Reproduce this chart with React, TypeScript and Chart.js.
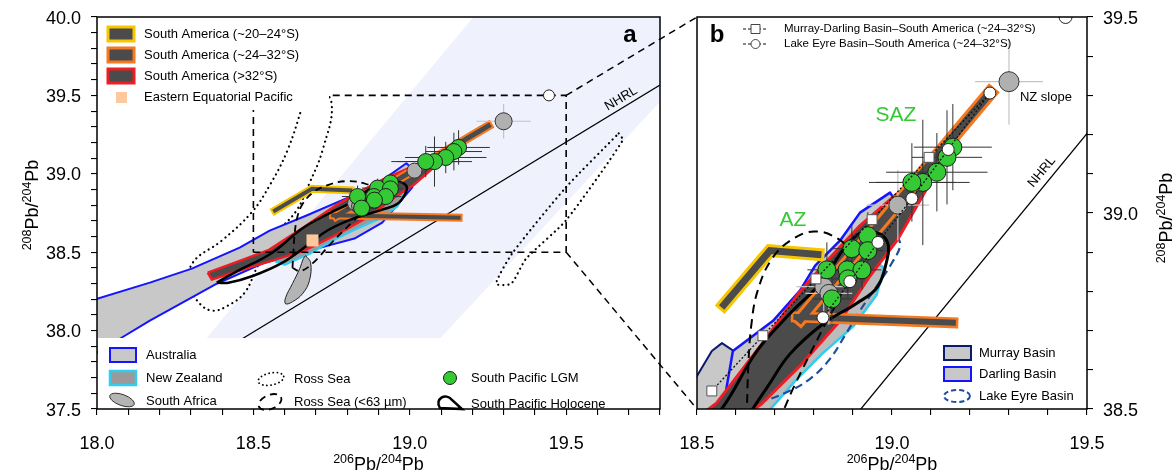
import React, { useEffect, useRef } from 'react';
import { Chart, registerables } from 'chart.js';

Chart.register(...registerables);

const FONT = '"Liberation Sans", Arial, Helvetica, sans-serif';
const W = 1175;
const H = 472;

// ---------------- axes ----------------
const A_X_RANGE = [18.0, 19.8];
const A_Y_RANGE = [37.5, 40.0];
const B_X_RANGE = [18.5, 19.5];
const B_Y_RANGE = [38.5, 39.5];
const A_X_TICKS = [18.0, 18.5, 19.0, 19.5];
const A_Y_TICKS = [37.5, 38.0, 38.5, 39.0, 39.5, 40.0];
const B_X_TICKS = [18.5, 19.0, 19.5];
const B_Y_TICKS = [38.5, 39.0, 39.5];
const MINOR_STEP = 0.1;
const ZOOM_BOX_X = [18.5, 19.5];
const ZOOM_BOX_Y = [38.5, 39.5];

// ---------------- reference line ----------------
const NHRL_X = [18.4, 19.8];
const NHRL_Y = [37.87, 39.566];

type P = [number, number];

// ---------------- fields (x = 206Pb/204Pb, y = 208Pb/204Pb) ----------------
const lavenderBand: P[] = [[19.224, 40.05], [19.85, 40.05], [19.85, 39.566], [19.024, 37.794], [18.284, 37.794]];
const australia: P[] = [
  [17.946, 38.159], [18.0, 38.203], [18.169, 38.306], [18.303, 38.395], [18.456, 38.529], [18.552, 38.638],
  [18.67, 38.734], [18.797, 38.843], [18.903, 38.945], [18.989, 39.067], [19.014, 39.022], [19.008, 38.913],
  [18.912, 38.689], [18.823, 38.587], [18.679, 38.51], [18.536, 38.433], [18.383, 38.299], [18.169, 38.063],
  [18.073, 37.948], [17.946, 37.794],
];
const murrayBasin: P[] = [
  [18.45, 38.52], [18.5, 38.584], [18.538, 38.648], [18.564, 38.668], [18.618, 38.632], [18.618, 38.605],
  [18.6, 38.5], [18.58, 38.45], [18.45, 38.45],
];
const darlingBasin: P[] = [
  [18.592, 38.648], [18.695, 38.725], [18.764, 38.802], [18.803, 38.866], [18.867, 38.93], [18.918, 39.001],
  [18.995, 39.052], [19.003, 39.04], [18.99, 38.98], [18.93, 38.88], [18.86, 38.76], [18.78, 38.63],
  [18.7, 38.52], [18.64, 38.44], [18.58, 38.44], [18.575, 38.55],
];
const lakeEyreBasin: P[] = [
  [19.013, 38.942], [19.021, 38.917], [19.0, 38.873], [18.962, 38.815], [18.918, 38.751], [18.879, 38.687],
  [18.841, 38.628], [18.79, 38.577], [18.726, 38.541], [18.662, 38.52], [18.636, 38.526], [18.641, 38.559],
  [18.662, 38.597], [18.7, 38.648], [18.751, 38.712], [18.803, 38.776], [18.867, 38.84], [18.931, 38.891],
  [18.982, 38.935],
];
const newZealand: P[] = [
  [18.57, 38.44], [18.64, 38.51], [18.72, 38.61], [18.8, 38.71], [18.88, 38.8], [18.95, 38.88], [18.98, 38.86],
  [18.96, 38.79], [18.9, 38.71], [18.82, 38.64], [18.75, 38.57], [18.68, 38.49], [18.6, 38.42],
];
const southAfrica: P[] = [
  [18.667, 38.478], [18.683, 38.433], [18.679, 38.318], [18.657, 38.235], [18.625, 38.184], [18.603, 38.171],
  [18.603, 38.21], [18.625, 38.3], [18.648, 38.395], [18.66, 38.46],
];
const saSouth32: P[] = [
  [18.354, 38.37], [18.45, 38.44], [18.55, 38.515], [18.662, 38.66], [18.764, 38.8], [18.841, 38.886],
  [18.918, 38.968], [19.008, 39.045], [19.08, 39.1], [19.1, 39.112], [19.088, 39.06], [19.013, 38.93],
  [18.944, 38.84], [18.867, 38.725], [18.764, 38.61], [18.662, 38.51], [18.55, 38.44], [18.45, 38.38],
  [18.367, 38.325],
];
const sa2432Bar: P[] = [[18.755, 38.735], [19.156, 38.72]];
const sa2432Trend: P[] = [[18.765, 38.73], [19.251, 39.306]];
const sa2024: P[] = [[18.569, 38.766], [18.687, 38.904], [18.81, 38.894]];
const rossSeaLeft: P[] = [
  [18.66, 39.45], [18.609, 39.15], [18.552, 38.926], [18.494, 38.753], [18.399, 38.574], [18.306, 38.433],
  [18.297, 38.286], [18.329, 38.171], [18.37, 38.127], [18.418, 38.159], [18.472, 38.242], [18.514, 38.414],
  [18.568, 38.606], [18.638, 38.766], [18.679, 38.939], [18.721, 39.15], [18.75, 39.45], [18.7, 39.55],
];
const rossSeaRight: P[] = [
  [19.668, 39.258], [19.681, 39.214], [19.499, 38.702], [19.372, 38.459], [19.324, 38.299], [19.276, 38.299],
  [19.327, 38.491], [19.499, 38.913],
];
const rossSeaFine: P[] = [
  [18.625, 38.4], [18.628, 38.5], [18.632, 38.62], [18.64, 38.72], [18.655, 38.8], [18.69, 38.88], [18.74, 38.93],
  [18.8, 38.953], [18.86, 38.935], [18.89, 38.9], [18.88, 38.82], [18.82, 38.7], [18.75, 38.56], [18.69, 38.43],
  [18.65, 38.38],
];
const holocene: P[] = [
  [18.383, 38.306], [18.42, 38.305], [18.5, 38.35], [18.59, 38.43], [18.679, 38.554], [18.738, 38.64],
  [18.823, 38.717], [18.91, 38.77], [18.962, 38.81], [18.987, 38.88], [18.99, 38.92], [18.969, 38.947],
  [18.926, 38.95], [18.9, 38.935], [18.867, 38.896], [18.823, 38.827], [18.738, 38.743], [18.654, 38.648],
  [18.559, 38.495], [18.44, 38.37],
];

// ---------------- point data ----------------
const LGM_X = [19.156, 19.141, 19.115, 19.079, 19.051, 18.938, 18.897, 18.938, 18.833, 18.885, 18.923, 18.887, 18.846];
const LGM_Y = [39.168, 39.142, 39.104, 39.078, 39.078, 38.942, 38.909, 38.904, 38.855, 38.855, 38.855, 38.832, 38.781];
const LGM_XERR = [0.1, 0.09, 0.13, 0.12, 0.11, 0.04, 0.05, 0.04, 0.05, 0.04, 0.05, 0.04, 0.05];
const LGM_YERR = [0.11, 0.12, 0.1, 0.16, 0.1, 0.06, 0.06, 0.05, 0.07, 0.06, 0.05, 0.05, 0.06];
const GREY_X = [19.3, 19.015, 18.825, 18.838];
const GREY_Y = [39.335, 39.02, 38.812, 38.795];
const GREY_XERR = [0.087, 0.08, 0.07, 0.06];
const GREY_YERR = [0.11, 0.09, 0.09, 0.08];
const EEP_X = [18.689];
const EEP_Y = [38.575];
const MD_MIX_X = [18.538, 18.669, 18.805, 18.949, 19.095, 19.251];
const MD_MIX_Y = [38.546, 38.687, 38.832, 38.983, 39.142, 39.306];
const LE_MIX_X = [18.823, 18.892, 18.964, 19.051, 19.144, 19.251];
const LE_MIX_Y = [38.733, 38.825, 38.925, 39.037, 39.162, 39.306];
const LE_END_X = [19.445];
const LE_END_Y = [39.5];

// ---------------- labels ----------------
const LEGEND_A_TOP = ['South America (~20–24°S)', 'South America (~24–32°S)', 'South America (>32°S)', 'Eastern Equatorial Pacific'];
const LEGEND_A_BOTTOM = ['Australia', 'New Zealand', 'South Africa', 'Ross Sea', 'Ross Sea (<63 µm)', 'South Pacific LGM', 'South Pacific Holocene'];
const LEGEND_B_TOP = ['Murray-Darling Basin–South America (~24–32°S)', 'Lake Eyre Basin–South America (~24–32°S)'];
const LEGEND_B_BOTTOM = ['Murray Basin', 'Darling Basin', 'Lake Eyre Basin'];

// ---------------- colours ----------------
const C = {
  lavender: '#eff1fc', ausFill: '#c8c8c8', blue: '#1414ff', navy: '#0c1a6e', cyan: '#30ccf2',
  nzFill: '#9a9a9a', dark: '#4b4b4b', red: '#ee1c25', orange: '#f47920', yellow: '#f6c700',
  green: '#35c935', grey: '#b0b0b0', eep: '#fbc99d', lakeEyre: '#1f4e9c',
};

const xy = (arr: P[]) => arr.map(([x, y]) => ({ x, y }));
const closed = (arr: P[]) => xy([...arr, arr[0]]);

function shape(arr: P[], o: any) {
  return {
    data: closed(arr),
    fill: o.fill ? 'shape' : false,
    backgroundColor: o.fill || 'rgba(0,0,0,0)',
    borderColor: o.stroke || 'rgba(0,0,0,0)',
    borderWidth: o.width ?? 0.01,
    borderDash: o.dash || [],
    borderCapStyle: o.cap || 'butt',
    borderJoinStyle: 'round',
    tension: o.tension || 0,
    pointRadius: 0,
    pointHoverRadius: 0,
    clip: 0,
  };
}
function polyline(arr: P[], o: any) {
  return {
    data: xy(arr),
    fill: false,
    borderColor: o.stroke,
    borderWidth: o.width,
    borderDash: o.dash || [],
    borderCapStyle: o.cap || 'butt',
    borderJoinStyle: o.join || 'miter',
    tension: 0,
    pointRadius: 0,
    pointHoverRadius: 0,
    clip: 0,
  };
}
function points(xs: number[], ys: number[], o: any) {
  return {
    data: xs.map((x, i) => ({ x, y: ys[i] })),
    showLine: o.line || false,
    borderColor: o.lineColor || '#000',
    borderWidth: o.lineWidth || 1,
    borderDash: o.dash || [],
    fill: false,
    pointRadius: o.r,
    pointHoverRadius: o.r,
    pointStyle: o.style || 'circle',
    pointBackgroundColor: o.fill,
    pointBorderColor: o.stroke,
    pointBorderWidth: o.bw ?? 1,
    clip: o.clip ?? 20,
  };
}
function errorBars(xs: number[], ys: number[], ex: number[], ey: number[], color: string, width: number) {
  const d: any[] = [];
  xs.forEach((x, i) => {
    const y = ys[i];
    d.push({ x: x - ex[i], y }, { x: x + ex[i], y }, { x, y: null });
    d.push({ x, y: y - ey[i] }, { x, y: y + ey[i] }, { x, y: null });
  });
  return { data: d, borderColor: color, borderWidth: width, pointRadius: 0, pointHoverRadius: 0, fill: false, spanGaps: false, tension: 0, clip: 0 };
}
function zoomBox() {
  const pts: P[] = [
    [ZOOM_BOX_X[0], ZOOM_BOX_Y[0]], [ZOOM_BOX_X[1], ZOOM_BOX_Y[0]], [ZOOM_BOX_X[1], ZOOM_BOX_Y[1]], [ZOOM_BOX_X[0], ZOOM_BOX_Y[1]],
  ];
  return shape(pts, { stroke: '#000', width: 1.6, dash: [7, 5] });
}
const withOrder = (arr: any[]) => arr.map((d, i) => ({ ...d, order: arr.length - i }));

function datasetsA() {
  return withOrder([
    shape(lavenderBand, { fill: C.lavender }),
    polyline([[NHRL_X[0], NHRL_Y[0]], [NHRL_X[1], NHRL_Y[1]]], { stroke: '#000', width: 1.3 }),
    shape(rossSeaLeft, { stroke: '#000', width: 2.2, dash: [0.1, 5], cap: 'round', tension: 0.4 }),
    shape(rossSeaRight, { stroke: '#000', width: 2.2, dash: [0.1, 5], cap: 'round', tension: 0.2 }),
    shape(australia, { fill: C.ausFill, stroke: C.blue, width: 2 }),
    shape(newZealand, { fill: C.nzFill, stroke: C.cyan, width: 2 }),
    shape(southAfrica, { fill: '#b4b4b4', stroke: '#222', width: 1, tension: 0.4 }),
    shape(saSouth32, { fill: C.dark, stroke: C.red, width: 2.5 }),
    polyline(sa2432Trend, { stroke: C.orange, width: 9, cap: 'square' }),
    polyline(sa2432Bar, { stroke: C.orange, width: 8, cap: 'square' }),
    polyline(sa2024, { stroke: C.yellow, width: 8, cap: 'square' }),
    polyline(sa2432Trend, { stroke: C.dark, width: 5, cap: 'square' }),
    polyline(sa2432Bar, { stroke: C.dark, width: 4, cap: 'square' }),
    polyline(sa2024, { stroke: C.dark, width: 4, cap: 'square' }),
    shape(rossSeaFine, { stroke: '#000', width: 1.8, dash: [7, 5], tension: 0.4 }),
    shape(holocene, { stroke: '#000', width: 2.5, tension: 0.4 }),
    points(EEP_X, EEP_Y, { r: 8.5, style: 'rect', fill: C.eep, stroke: C.eep, bw: 0 }),
    zoomBox(),
    errorBars(GREY_X.slice(0, 1), GREY_Y.slice(0, 1), GREY_XERR, GREY_YERR, '#c4c4c4', 1.2),
    errorBars(LGM_X, LGM_Y, LGM_XERR, LGM_YERR, '#333', 1),
    points(GREY_X, GREY_Y, { r: [8.5, 7.5, 7.5, 7.5], fill: C.grey, stroke: '#333', bw: 1 }),
    points(LGM_X, LGM_Y, { r: 8, fill: C.green, stroke: '#1d1d1d', bw: 1 }),
    points(LE_END_X, LE_END_Y, { r: 5.5, fill: '#fff', stroke: '#222', bw: 1 }),
  ]);
}

function datasetsB() {
  return withOrder([
    shape(murrayBasin, { fill: C.ausFill, stroke: C.navy, width: 2 }),
    shape(darlingBasin, { fill: C.ausFill, stroke: C.blue, width: 2.5 }),
    shape(newZealand, { fill: '#bcbcbc', stroke: C.cyan, width: 2.5 }),
    shape(lakeEyreBasin, { stroke: C.lakeEyre, width: 2.2, dash: [8, 5], tension: 0.4 }),
    polyline([[NHRL_X[0], NHRL_Y[0]], [NHRL_X[1], NHRL_Y[1]]], { stroke: '#000', width: 1.3 }),
    shape(saSouth32, { fill: C.dark, stroke: C.red, width: 3 }),
    polyline(sa2432Trend, { stroke: C.orange, width: 14, cap: 'square' }),
    polyline(sa2432Bar, { stroke: C.orange, width: 11, cap: 'square' }),
    polyline(sa2024, { stroke: C.yellow, width: 13, cap: 'square' }),
    polyline(sa2432Trend, { stroke: C.dark, width: 8, cap: 'square' }),
    polyline(sa2432Bar, { stroke: C.dark, width: 6, cap: 'square' }),
    polyline(sa2024, { stroke: C.dark, width: 7, cap: 'square' }),
    shape(rossSeaFine, { stroke: '#000', width: 2, dash: [9, 6], tension: 0.4 }),
    shape(holocene, { stroke: '#000', width: 3, tension: 0.4 }),
    errorBars(GREY_X, GREY_Y, GREY_XERR, GREY_YERR, '#c4c4c4', 1.2),
    errorBars(LGM_X, LGM_Y, LGM_XERR, LGM_YERR, '#333', 1),
    points(GREY_X, GREY_Y, { r: [10, 9, 9, 9], fill: C.grey, stroke: '#333', bw: 1 }),
    points(LGM_X, LGM_Y, { r: 9, fill: C.green, stroke: '#1d1d1d', bw: 1 }),
    points(MD_MIX_X, MD_MIX_Y, { r: [7, 7, 7, 7, 7, 0], style: 'rect', fill: '#fff', stroke: '#555', bw: 1, line: true, lineColor: '#111', lineWidth: 1.3, dash: [2, 2] }),
    points(LE_MIX_X, LE_MIX_Y, { r: 6, fill: '#fff', stroke: '#222', bw: 1, line: true, lineColor: '#111', lineWidth: 1.3, dash: [2, 2] }),
    points(LE_END_X, LE_END_Y, { r: 6.5, fill: '#fff', stroke: '#222', bw: 1, clip: 0 }),
  ]);
}

// ---------------- drawing helpers ----------------
function drawFrame(chart: any) {
  const { ctx, chartArea: ca } = chart;
  ctx.save();
  ctx.strokeStyle = '#000';
  ctx.lineWidth = 1.5;
  ctx.strokeRect(ca.left, ca.top, ca.right - ca.left, ca.bottom - ca.top);
  ctx.restore();
}
function drawTickLabels(chart: any, xt: number[], yt: number[], side: 'left' | 'right') {
  const { ctx, chartArea: ca, scales } = chart;
  ctx.save();
  ctx.fillStyle = '#000';
  ctx.font = `18px ${FONT}`;
  ctx.textBaseline = 'alphabetic';
  ctx.textAlign = 'center';
  xt.forEach((v) => ctx.fillText(v.toFixed(1), scales.x.getPixelForValue(v), ca.bottom + 40));
  ctx.textAlign = side === 'left' ? 'right' : 'left';
  yt.forEach((v) => ctx.fillText(v.toFixed(1), side === 'left' ? ca.left - 16 : ca.right + 16, scales.y.getPixelForValue(v) + 6.5));
  ctx.restore();
}
function drawIsoTitle(ctx: CanvasRenderingContext2D, cx: number, cy: number, rot: boolean, sup1: string, sup2: string) {
  const big = `18px ${FONT}`;
  const small = `12.5px ${FONT}`;
  const parts: [string, string, number][] = [[sup1, small, -7], ['Pb/', big, 0], [sup2, small, -7], ['Pb', big, 0]];
  ctx.save();
  ctx.translate(cx, cy);
  if (rot) ctx.rotate(-Math.PI / 2);
  ctx.fillStyle = '#000';
  ctx.textBaseline = 'alphabetic';
  ctx.textAlign = 'left';
  let total = 0;
  const ws = parts.map(([t, f]) => { ctx.font = f; const w = ctx.measureText(t).width; total += w; return w; });
  let x = -total / 2;
  parts.forEach(([t, f, dy], i) => { ctx.font = f; ctx.fillText(t, x, dy); x += ws[i]; });
  ctx.restore();
}
function drawNHRL(chart: any, xAt: number, off: number) {
  const { ctx, scales } = chart;
  const p1 = { x: scales.x.getPixelForValue(NHRL_X[0]), y: scales.y.getPixelForValue(NHRL_Y[0]) };
  const p2 = { x: scales.x.getPixelForValue(NHRL_X[1]), y: scales.y.getPixelForValue(NHRL_Y[1]) };
  const ang = Math.atan2(p2.y - p1.y, p2.x - p1.x);
  const t = (xAt - NHRL_X[0]) / (NHRL_X[1] - NHRL_X[0]);
  const yAt = NHRL_Y[0] + t * (NHRL_Y[1] - NHRL_Y[0]);
  ctx.save();
  ctx.translate(scales.x.getPixelForValue(xAt), scales.y.getPixelForValue(yAt));
  ctx.rotate(ang);
  ctx.fillStyle = '#000';
  ctx.font = `13px ${FONT}`;
  ctx.textAlign = 'center';
  ctx.textBaseline = 'alphabetic';
  ctx.fillText('NHRL', 0, -off);
  ctx.restore();
}
function textAt(ctx: CanvasRenderingContext2D, s: string, x: number, y: number, font: string, color = '#000', align: CanvasTextAlign = 'left', base: CanvasTextBaseline = 'middle') {
  ctx.save();
  ctx.fillStyle = color;
  ctx.font = font;
  ctx.textAlign = align;
  ctx.textBaseline = base;
  ctx.fillText(s, x, y);
  ctx.restore();
}
function ellipse(ctx: CanvasRenderingContext2D, cx: number, cy: number, rx: number, ry: number, rot: number, fill: string | null, stroke: string, lw: number, dash: number[] = [], cap: CanvasLineCap = 'butt') {
  ctx.save();
  ctx.beginPath();
  ctx.ellipse(cx, cy, rx, ry, rot, 0, Math.PI * 2);
  if (fill) { ctx.fillStyle = fill; ctx.fill(); }
  ctx.setLineDash(dash);
  ctx.lineCap = cap;
  ctx.strokeStyle = stroke;
  ctx.lineWidth = lw;
  ctx.stroke();
  ctx.restore();
}
function legendRect(ctx: CanvasRenderingContext2D, x: number, y: number, w: number, h: number, fill: string, stroke: string, lw: number) {
  ctx.save();
  ctx.fillStyle = fill;
  ctx.fillRect(x, y, w, h);
  ctx.strokeStyle = stroke;
  ctx.lineWidth = lw;
  ctx.strokeRect(x, y, w, h);
  ctx.restore();
}

const panelAPlugin = {
  id: 'panelA',
  afterDatasetsDraw(chart: any) {
    const { ctx, chartArea: ca } = chart;
    ctx.save();
    ctx.fillStyle = '#fff';
    ctx.fillRect(ca.left + 1, ca.top + 1, 231, 92);
    ctx.fillRect(ca.left + 1, ca.bottom - 71, ca.right - ca.left - 2, 70);
    ctx.restore();
    // top legend
    const f13 = `13px ${FONT}`;
    const strokes = [C.yellow, C.orange, C.red];
    LEGEND_A_TOP.forEach((lab, i) => {
      const y = 34 + i * 21;
      if (i < 3) legendRect(ctx, 108, y - 7, 26, 14, C.dark, strokes[i], 3);
      else { ctx.save(); ctx.fillStyle = C.eep; ctx.fillRect(116, y - 5, 11, 11); ctx.restore(); }
      textAt(ctx, lab, 144, y, f13);
    });
    // bottom legend
    legendRect(ctx, 110, 348, 26, 14, C.ausFill, C.blue, 2);
    textAt(ctx, LEGEND_A_BOTTOM[0], 146, 355, f13);
    legendRect(ctx, 110, 371, 26, 14, C.nzFill, C.cyan, 2.5);
    textAt(ctx, LEGEND_A_BOTTOM[1], 146, 378, f13);
    ellipse(ctx, 122, 400, 13, 5.5, 0.35, '#b4b4b4', '#333', 1);
    textAt(ctx, LEGEND_A_BOTTOM[2], 146, 401, f13);
    ellipse(ctx, 271, 379, 13, 6, -0.2, null, '#000', 1.8, [0.1, 4], 'round');
    textAt(ctx, LEGEND_A_BOTTOM[3], 294, 379, f13);
    ellipse(ctx, 270, 402, 12, 7, -0.4, null, '#000', 1.8, [7, 5]);
    textAt(ctx, LEGEND_A_BOTTOM[4], 294, 402, f13);
    ellipse(ctx, 450, 378, 6.5, 6.5, 0, C.green, '#1d1d1d', 1);
    textAt(ctx, LEGEND_A_BOTTOM[5], 471, 378, f13);
    ctx.save();
    ctx.beginPath();
    ctx.moveTo(440, 408);
    ctx.bezierCurveTo(434, 399, 446, 392, 452, 400);
    ctx.lineTo(462, 409);
    ctx.closePath();
    ctx.lineWidth = 2.5;
    ctx.strokeStyle = '#000';
    ctx.stroke();
    ctx.restore();
    textAt(ctx, LEGEND_A_BOTTOM[6], 471, 404, f13);
    drawNHRL(chart, 19.69, 5);
    textAt(ctx, 'a', 630, 42, `bold 24px ${FONT}`, '#000', 'center', 'alphabetic');
  },
  afterDraw(chart: any) {
    const { ctx, chartArea: ca } = chart;
    drawFrame(chart);
    drawTickLabels(chart, A_X_TICKS, A_Y_TICKS, 'left');
    drawIsoTitle(ctx, (ca.left + ca.right) / 2, 470, false, '206', '204');
    drawIsoTitle(ctx, 38, 205, true, '208', '204');
  },
};

function makePanelBPlugin(getA: () => any) {
  return {
    id: 'panelB',
    afterDatasetsDraw(chart: any) {
      const { ctx, scales } = chart;
      const f13 = `13px ${FONT}`;
      const f11 = `11.5px ${FONT}`;
      // top legend
      LEGEND_B_TOP.forEach((lab, i) => {
        const y = 29 + i * 15;
        ctx.save();
        ctx.setLineDash([3, 2]);
        ctx.strokeStyle = '#111';
        ctx.lineWidth = 1.2;
        ctx.beginPath(); ctx.moveTo(743, y); ctx.lineTo(768, y); ctx.stroke();
        ctx.setLineDash([]);
        ctx.fillStyle = '#fff';
        ctx.strokeStyle = '#444';
        ctx.lineWidth = 1;
        ctx.beginPath();
        if (i === 0) ctx.rect(751, y - 4.5, 9, 9); else ctx.arc(755.5, y, 4.5, 0, Math.PI * 2);
        ctx.fill(); ctx.stroke();
        ctx.restore();
        textAt(ctx, lab, 784, y, f11);
      });
      // bottom legend
      legendRect(ctx, 944, 346, 27, 14, C.ausFill, C.navy, 2);
      textAt(ctx, LEGEND_B_BOTTOM[0], 979, 353, f13);
      legendRect(ctx, 944, 367, 27, 14, C.ausFill, C.blue, 2);
      textAt(ctx, LEGEND_B_BOTTOM[1], 979, 374, f13);
      ellipse(ctx, 957, 396, 13, 6, 0, '#fff', C.lakeEyre, 2, [5, 3]);
      textAt(ctx, LEGEND_B_BOTTOM[2], 979, 396, f13);
      // annotations
      textAt(ctx, 'AZ', scales.x.getPixelForValue(18.746), scales.y.getPixelForValue(38.981), `21px ${FONT}`, '#35c935', 'center');
      textAt(ctx, 'SAZ', scales.x.getPixelForValue(19.01), scales.y.getPixelForValue(39.249), `21px ${FONT}`, '#35c935', 'center');
      textAt(ctx, 'NZ slope', scales.x.getPixelForValue(19.328), scales.y.getPixelForValue(39.295), f13);
      drawNHRL(chart, 19.405, 7);
      textAt(ctx, 'b', 717, 42, `bold 24px ${FONT}`, '#000', 'center', 'alphabetic');
    },
    afterDraw(chart: any) {
      const { ctx, chartArea: ca } = chart;
      drawFrame(chart);
      drawTickLabels(chart, B_X_TICKS, B_Y_TICKS, 'right');
      drawIsoTitle(ctx, (ca.left + ca.right) / 2, 470, false, '206', '204');
      drawIsoTitle(ctx, 1172, 218, true, '208', '204');
      // connectors from the zoom box of panel a
      const a = getA();
      if (a) {
        const ax = a.scales.x;
        const ay = a.scales.y;
        ctx.save();
        ctx.setLineDash([7, 5]);
        ctx.strokeStyle = '#000';
        ctx.lineWidth = 1.5;
        ctx.beginPath();
        ctx.moveTo(ax.getPixelForValue(ZOOM_BOX_X[1]), ay.getPixelForValue(ZOOM_BOX_Y[1]));
        ctx.lineTo(ca.left, ca.top);
        ctx.moveTo(ax.getPixelForValue(ZOOM_BOX_X[1]), ay.getPixelForValue(ZOOM_BOX_Y[0]));
        ctx.lineTo(ca.left, ca.bottom);
        ctx.stroke();
        ctx.restore();
      }
    },
  };
}

function scaleOpts(range: number[], position: string, fit: (s: any) => void) {
  return {
    type: 'linear',
    position,
    min: range[0],
    max: range[1],
    afterFit: fit,
    ticks: { display: false, stepSize: MINOR_STEP, autoSkip: false },
    grid: { drawOnChartArea: false, drawTicks: true, tickLength: 6, color: '#000', lineWidth: 1.1 },
    border: { display: false },
  };
}

function makeConfig(datasets: any[], xr: number[], yr: number[], ySide: string, padding: any, yWidth: number, plugin: any) {
  return {
    type: 'line',
    data: { datasets },
    options: {
      animation: false,
      responsive: false,
      maintainAspectRatio: false,
      devicePixelRatio: 1,
      events: [],
      layout: { padding },
      elements: { line: { capBezierPoints: false } },
      plugins: { legend: { display: false }, tooltip: { enabled: false } },
      scales: {
        x: scaleOpts(xr, 'bottom', (s: any) => { s.height = H - 409; }),
        y: scaleOpts(yr, ySide, (s: any) => { s.width = yWidth; }),
      },
    },
    plugins: [plugin],
  } as any;
}

export default function App() {
  const refA = useRef<HTMLCanvasElement>(null);
  const refB = useRef<HTMLCanvasElement>(null);
  useEffect(() => {
    document.body.style.margin = '0';
    Chart.defaults.font.family = FONT;
    let chartA: any = null;
    chartA = new Chart(refA.current as HTMLCanvasElement,
      makeConfig(datasetsA(), A_X_RANGE, A_Y_RANGE, 'left', { left: 0, top: 17, right: W - 660, bottom: 0 }, 97, panelAPlugin));
    const chartB = new Chart(refB.current as HTMLCanvasElement,
      makeConfig(datasetsB(), B_X_RANGE, B_Y_RANGE, 'right', { left: 697, top: 17, right: 0, bottom: 0 }, W - 1087, makePanelBPlugin(() => chartA)));
    return () => { chartB.destroy(); chartA.destroy(); };
  }, []);
  const cs: React.CSSProperties = { position: 'absolute', left: 0, top: 0, width: W, height: H };
  return (
    <div style={{ position: 'relative', width: W, height: H, background: '#fff' }}>
      <canvas ref={refA} width={W} height={H} style={cs} />
      <canvas ref={refB} width={W} height={H} style={cs} />
    </div>
  );
}
